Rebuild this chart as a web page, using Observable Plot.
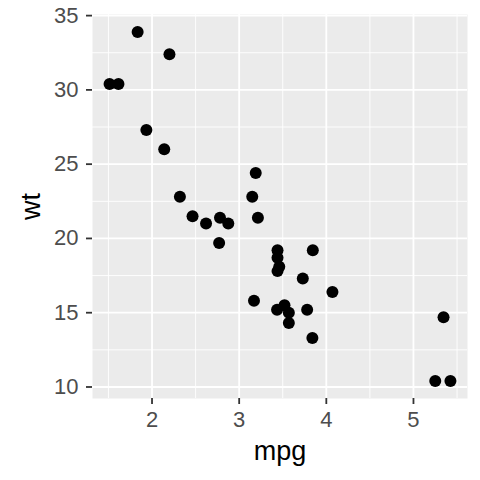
<!DOCTYPE html>
<html><head>
<meta charset="utf-8">
<script src="https://cdn.jsdelivr.net/npm/d3@7"></script>
<script src="https://cdn.jsdelivr.net/npm/@observablehq/plot@0.6"></script>
<style>body{margin:0;background:#fff}</style>
</head><body><div id="chart"></div>
<script>
const wt = [2.620,2.875,2.320,3.215,3.440,3.460,3.570,3.190,3.150,3.440,3.440,4.070,3.730,3.780,5.250,5.424,5.345,2.200,1.615,1.835,2.465,3.520,3.435,3.840,3.845,1.935,2.140,1.513,3.170,2.770,3.570,2.780];
const mpg = [21.0,21.0,22.8,21.4,18.7,18.1,14.3,24.4,22.8,19.2,17.8,16.4,17.3,15.2,10.4,10.4,14.7,32.4,30.4,33.9,21.5,15.5,15.2,13.3,19.2,27.3,26.0,30.4,15.8,19.7,15.0,21.4];
const xTicks = [2,3,4,5];
const xMinor = [1.5,2.5,3.5,4.5,5.5];
const yTicks = [10,15,20,25,30,35];
const yMinor = [12.5,17.5,22.5,27.5,32.5];
const xLabel = "mpg";
const yLabel = "wt";
const data = wt.map((w,i)=>({wt:w, mpg:mpg[i]}));
const font = "'Liberation Sans', Arial, Helvetica, sans-serif";
const chart = Plot.plot({
  width:480, height:480,
  marginLeft:92, marginRight:13, marginTop:14, marginBottom:82,
  style:{fontFamily:font, fontSize:"22px", background:"#fff", overflow:"visible"},
  x:{domain:[1.317,5.620]},
  y:{domain:[9.225,35.075]},
  marks:[
    Plot.frame({fill:"#EBEBEB", stroke:null}),
    Plot.ruleX(xMinor,{stroke:"#fff", strokeWidth:0.9}),
    Plot.ruleY(yMinor,{stroke:"#fff", strokeWidth:0.9}),
    Plot.ruleX(xTicks,{stroke:"#fff", strokeWidth:1.8}),
    Plot.ruleY(yTicks,{stroke:"#fff", strokeWidth:1.8}),
    Plot.dot(data,{x:"wt", y:"mpg", r:6, fill:"#000", stroke:null}),
    Plot.axisX({ticks:xTicks, tickFormat:d=>String(d), tickSize:6, tickPadding:7, fontSize:22, fill:"#4D4D4D", stroke:"#333", strokeWidth:1.8, label:null}),
    Plot.axisY({ticks:yTicks, tickFormat:d=>String(d), tickSize:6, tickPadding:8, fontSize:22, fill:"#4D4D4D", stroke:"#333", strokeWidth:1.8, label:null}),
    Plot.axisX({ticks:[], label:xLabel, labelAnchor:"center", labelArrow:"none", labelOffset:61, fontSize:27, fill:"#000"}),
    Plot.axisY({ticks:[], label:yLabel, labelAnchor:"center", labelArrow:"none", labelOffset:72, fontSize:27, fill:"#000"})
  ]
});
document.getElementById("chart").appendChild(chart);
</script>
</body></html>
